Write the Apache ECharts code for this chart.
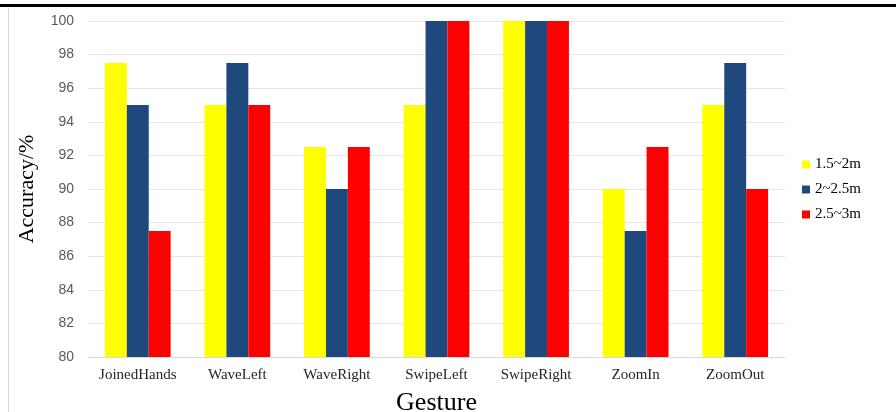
<!DOCTYPE html>
<html><head><meta charset="utf-8">
<script src="https://cdn.jsdelivr.net/npm/echarts@6/dist/echarts.min.js"></script>
<style>html,body{margin:0;padding:0;background:#fff}#c{width:896px;height:412px}</style>
</head><body><div id="c"></div>
<script>
const categories = ['JoinedHands','WaveLeft','WaveRight','SwipeLeft','SwipeRight','ZoomIn','ZoomOut'];
const seriesNames = ['1.5~2m','2~2.5m','2.5~3m'];
const s1 = [97.5, 95, 92.5, 95, 100, 90, 95];
const s2 = [95, 97.5, 90, 100, 100, 87.5, 97.5];
const s3 = [87.5, 95, 92.5, 100, 100, 92.5, 90];
const colors = ['#FFFF00','#1F497D','#FF0000'];
const chart = echarts.init(document.getElementById('c'));
const serif = '"Liberation Serif", "DejaVu Serif", serif';
chart.setOption({
  animation: false,
  graphic: [
    {type:'rect', shape:{x:0,y:4,width:896,height:3}, style:{fill:'#000'}},
    {type:'rect', shape:{x:8,y:8,width:1,height:404}, style:{fill:'#d9d9d9'}}
  ],
  grid: {left:88, right:111, top:21, bottom:55, outerBoundsMode:'none', containLabel:false},
  legend: {
    orient:'vertical', left:797, top:152, itemWidth:8, itemHeight:8, itemGap:10,
    textStyle:{fontFamily:serif, fontSize:15, color:'#000'},
    data: seriesNames.map((n,i)=>({name:n, icon:'rect'}))
  },
  xAxis: {
    type:'category', data:categories,
    name:'Gesture', nameLocation:'middle', nameGap:33,
    nameTextStyle:{fontFamily:serif, fontSize:26, color:'#000'},
    axisLine:{lineStyle:{color:'#d9d9d9'}}, axisTick:{show:false},
    axisLabel:{fontFamily:serif, fontSize:15, color:'#262626', margin:11, interval:0}
  },
  yAxis: {
    type:'value', min:80, max:100, interval:2,
    name:'Accuracy/%', nameLocation:'middle', nameGap:50,
    nameTextStyle:{fontFamily:serif, fontSize:22, color:'#000'},
    axisLine:{show:false}, axisTick:{show:false},
    axisLabel:{fontFamily:'"Liberation Sans", Arial, sans-serif', fontSize:14, color:'#595959', margin:14},
    splitLine:{lineStyle:{color:'#e6e6e6'}}
  },
  series: [s1,s2,s3].map((d,i)=>({
    name:seriesNames[i], type:'bar', data:d, barGap:'0%', barCategoryGap:'34%',
    itemStyle:{color:colors[i]}
  }))
});
</script></body></html>
